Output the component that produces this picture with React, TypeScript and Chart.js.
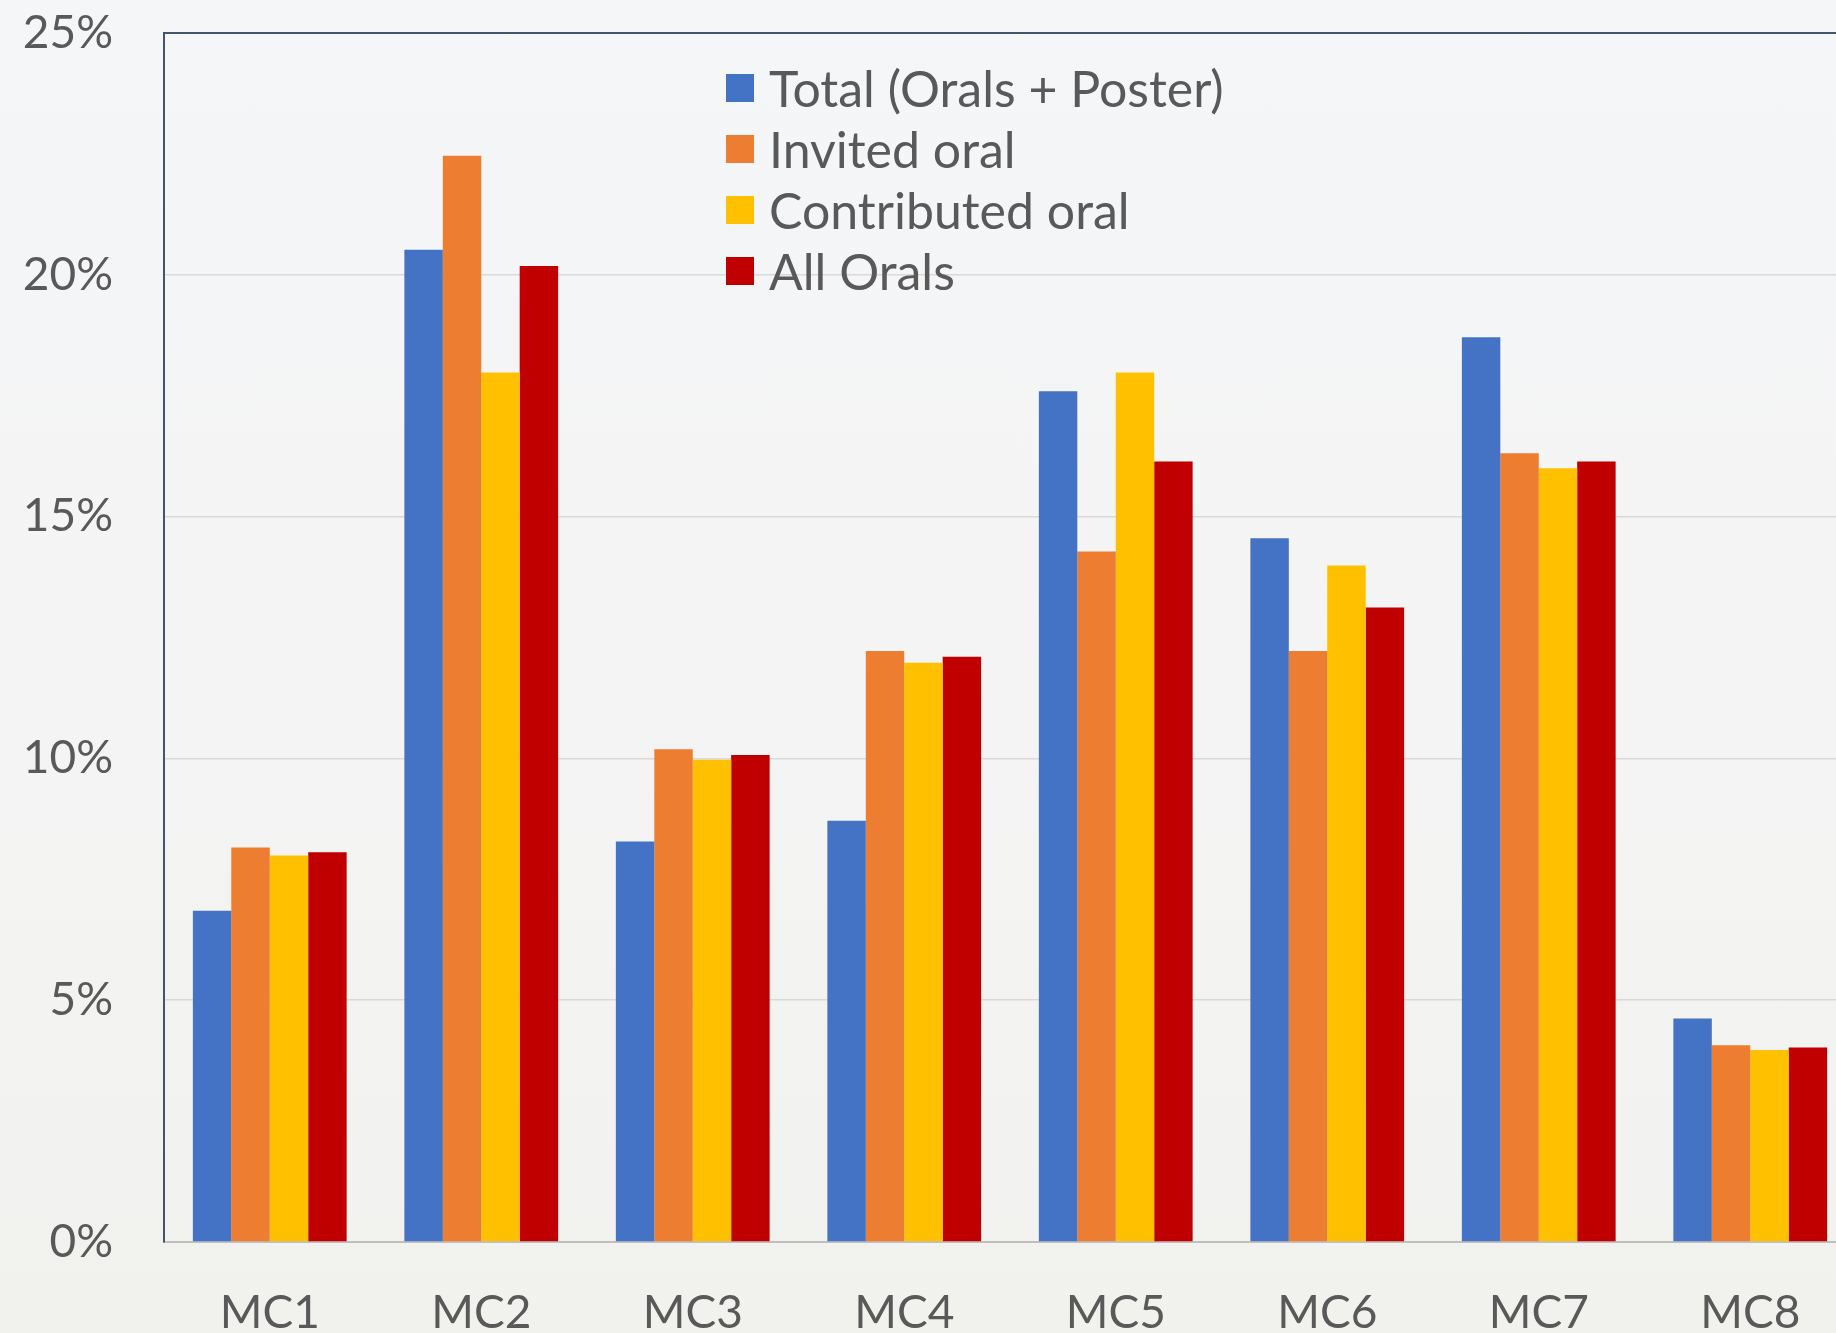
import React, { useEffect, useRef } from "react";
import { Chart, registerables } from "chart.js";

Chart.register(...registerables);

const categories = ["MC1", "MC2", "MC3", "MC4", "MC5", "MC6", "MC7", "MC8"];
const seriesLabels = ["Total (Orals + Poster)", "Invited oral", "Contributed oral", "All Orals"];
const seriesColors = ["#4472C4", "#ED7D31", "#FFC000", "#C00000"];
const totalValues = [6.85, 20.52, 8.28, 8.71, 17.59, 14.55, 18.71, 4.62];
const invitedValues = [8.16, 22.46, 10.19, 12.22, 14.28, 12.22, 16.31, 4.07];
const contributedValues = [7.99, 17.98, 9.97, 11.98, 17.98, 13.99, 16.0, 3.97];
const allOralsValues = [8.06, 20.18, 10.07, 12.1, 16.14, 13.12, 16.14, 4.02];
const yMin = 0;
const yMax = 25;
const yStep = 5;

const FONT = "Lato, 'Open Sans', sans-serif";
const TEXT = "#595959";

const legendPlugin = {
  id: "insideLegend",
  afterDraw(chart: any) {
    const ctx = chart.ctx;
    ctx.save();
    ctx.font = `50px ${FONT}`;
    ctx.textBaseline = "middle";
    ctx.textAlign = "left";
    chart.data.datasets.forEach((ds: any, i: number) => {
      const cy = 88 + i * 61;
      ctx.fillStyle = ds.backgroundColor;
      ctx.fillRect(726, cy - 14, 28, 28);
      ctx.fillStyle = TEXT;
      ctx.fillText(ds.label, 769, cy + 3);
    });
    ctx.restore();
  },
};

export default function App() {
  const ref = useRef<HTMLCanvasElement | null>(null);

  useEffect(() => {
    if (!ref.current) return;
    const seriesValues = [totalValues, invitedValues, contributedValues, allOralsValues];
    const chart = new Chart(ref.current, {
      type: "bar",
      data: {
        labels: categories,
        datasets: seriesLabels.map((label, i) => ({
          label,
          data: seriesValues[i],
          backgroundColor: seriesColors[i],
          borderWidth: 0,
          categoryPercentage: 0.727,
          barPercentage: 1,
        })),
      },
      options: {
        animation: false,
        responsive: true,
        maintainAspectRatio: false,
        layout: { padding: { top: 33, right: 0, left: 0, bottom: 0 } },
        plugins: {
          legend: { display: false },
          tooltip: { enabled: false },
        },
        scales: {
          x: {
            offset: true,
            grid: { display: false },
            border: { display: true, color: "#BFBFBF", width: 2 },
            ticks: {
              color: TEXT,
              font: { family: FONT, size: 46 },
              padding: 36,
              maxRotation: 0,
              autoSkip: false,
            },
            afterFit: (scale: any) => {
              scale.height = 91;
              scale.paddingLeft = 0;
              scale.paddingRight = 0;
            },
          },
          y: {
            min: yMin,
            max: yMax,
            grid: {
              drawTicks: false,
              color: (c: any) =>
                c.tick && c.tick.value === yMax ? "#44546A" : c.tick && c.tick.value === 0 ? "#BFBFBF" : "#D9D9D9",
              lineWidth: (c: any) => (c.tick && c.tick.value === yMax ? 2 : 1.5),
            },
            border: { display: true, color: "#44546A", width: 2 },
            ticks: {
              stepSize: yStep,
              color: TEXT,
              font: { family: FONT, size: 46 },
              padding: 51,
              callback: (v: any) => `${v}%`,
            },
            afterFit: (scale: any) => {
              scale.width = 164;
              scale.paddingTop = 0;
              scale.paddingBottom = 0;
            },
          },
        },
      },
      plugins: [legendPlugin],
    });
    return () => chart.destroy();
  }, []);

  return (
    <div
      style={{
        position: "fixed",
        left: 0,
        top: 0,
        width: "1836px",
        height: "1333px",
        overflow: "hidden",
        background: "linear-gradient(180deg, #f5f6f8 0%, #f4f4f4 55%, #f1f1ee 100%)",
      }}
    >
      <div style={{ position: "relative", width: "1856px", height: "1333px" }}>
        <canvas ref={ref} />
      </div>
    </div>
  );
}
